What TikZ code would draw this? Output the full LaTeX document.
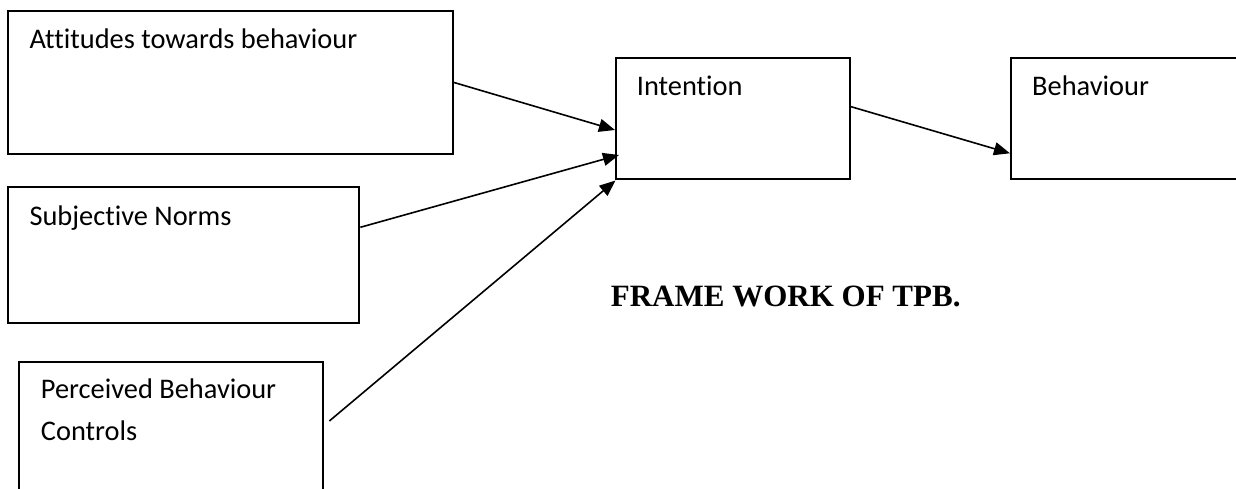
\documentclass[tikz,border=0pt]{standalone}
\usepackage{fontspec}
\setmainfont[Ligatures=NoCommon]{Carlito}
\newfontfamily\titlefont{Liberation Serif}
\usetikzlibrary{arrows.meta,calc}
\begin{document}
\begin{tikzpicture}[x=1pt,y=-1pt,
  box/.style={draw, line width=2.1pt, rectangle, inner sep=0pt},
  lbl/.style={anchor=base west, inner sep=0pt, font=\fontsize{28.4}{34}\selectfont},
  ttl/.style={anchor=base west, inner sep=0pt, font=\titlefont\bfseries\fontsize{31}{37}\selectfont},
  conn/.style={line width=1.6pt, -{Triangle[length=16pt,width=13pt]}}]
\useasboundingbox (0,0) rectangle (1236,489);
\clip (0,0) rectangle (1236,489);
% boxes
\node[box, minimum width=444.7pt, minimum height=143.6pt] (att) at (230.65,82.5) {};
\node[box, minimum width=351pt, minimum height=136pt] (subj) at (183.8,255.3) {};
\node[box, minimum width=304pt, minimum height=158.3pt] (perc) at (171.3,440.85) {};
\node[box, minimum width=234pt, minimum height=120.7pt] (int) at (733,118.65) {};
\node[box, minimum width=249pt, minimum height=120.7pt] (beh) at (1135.5,118.65) {};
% texts
\node[lbl] (attT) at (29.3,48.3) {Attitudes towards behaviour};
\node[lbl] (subjT) at (29.3,225) {Subjective Norms};
\node[lbl] (percT1) at (40.7,398.3) {Perceived Behaviour};
\node[lbl] (percT2) at (40.7,440) {Controls};
\node[lbl] (intT) at (636.7,96) {Intention};
\node[lbl] (behT) at (1032,96) {Behaviour};
\node[ttl] (title) at (610.7,306.7) {FRAME WORK OF TPB.};
% connectors
\draw[conn] (att.east) -- ([yshift=-11.35pt]int.west);
\draw[conn] ([yshift=28pt]subj.east) -- ([xshift=4pt,yshift=-36.35pt]int.west);
\draw[conn] ([xshift=5pt,yshift=19.85pt]perc.east) -- ([xshift=0.5pt,yshift=-0.5pt]int.south west);
\draw[conn] ([yshift=11.95pt]int.east) -- ([yshift=-34.65pt]beh.west);
\end{tikzpicture}
\end{document}
